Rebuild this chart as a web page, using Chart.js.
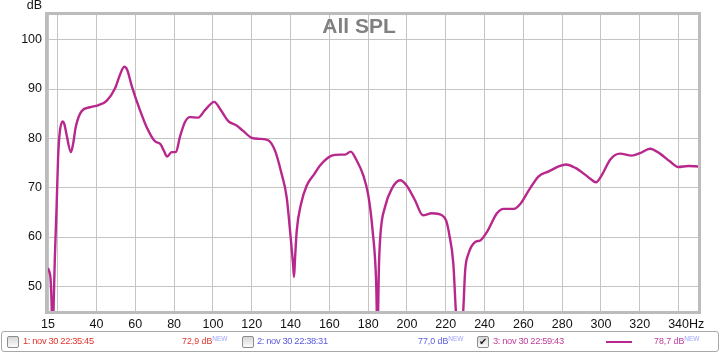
<!DOCTYPE html>
<html>
<head>
<meta charset="utf-8">
<title>All SPL</title>
<script src="https://cdn.jsdelivr.net/npm/chart.js@4.4.0/dist/chart.umd.min.js"></script>
<style>
    html, body { margin: 0; padding: 0; background: #fff; }
    #wrap { position: relative; width: 720px; height: 353px; overflow: hidden; }
    #splChart { position: absolute; left: 0; top: 0; }
    .legend {
        position: absolute; left: 1px; top: 331px; width: 716px; height: 19px;
        border: 1px solid #a8a8a8; border-radius: 3px;
        font-family: "Liberation Sans", Arial, sans-serif; font-size: 8.8px;
    }
    .legend span { position: absolute; top: 0; height: 19px; line-height: 19px; white-space: nowrap; }
    .legend .box {
        top: 4px; width: 10px; height: 10px; line-height: 10px;
        border: 1px solid #8c8c8c; border-radius: 2px;
        background: linear-gradient(#d6d6d6, #fbfbfb);
        font-size: 10px; text-align: center; color: #222;
    }
    .legend .name { font-size: 9.3px; letter-spacing: -0.35px; }
    .legend sup { font-size: 6.5px; color: #a0a4ff; vertical-align: 3px; line-height: 0; }
    .legend .swatch { top: 9px; height: 2px; width: 26px; background: #b8288c; }
</style>
</head>
<body>
<div id="wrap">
    <canvas id="splChart" width="720" height="353"></canvas>
    <div class="legend">
        <span class="box" style="left:5px"></span>
        <span class="name" style="left:21px;color:#e0342c">1: nov 30 22:35:45</span>
        <span style="left:180px;color:#e0342c">72,9 dB<sup>NEW</sup></span>

        <span class="box" style="left:240px"></span>
        <span class="name" style="left:255px;color:#5a5ae0">2: nov 30 22:38:31</span>
        <span style="left:416px;color:#5a5ae0">77,0 dB<sup>NEW</sup></span>

        <span class="box" style="left:475px">&#10004;</span>
        <span class="name" style="left:491px;color:#c03c9c">3: nov 30 22:59:43</span>
        <span class="swatch" style="left:604px"></span>
        <span style="left:652px;color:#c03c9c">78,7 dB<sup>NEW</sup></span>
    </div>
</div>
<script>
var freqs = [15, 15.8, 16.3, 16.9, 17.3, 17.7, 18.5, 19.4, 20.2, 21.0, 22.5, 23.5, 24.5, 26.8, 28.0,
    29.3, 32.3, 36.6, 40.8, 45.2, 49.5, 52.0, 54.3, 55.8, 58.1, 62.4, 65.8, 70.1, 73.0, 74.7,
    76.4, 78.7, 80.9, 83.0, 85.6, 88.1, 92.4, 95.9, 100.7, 103.6, 107.9, 112.2, 115.6, 120.0, 124.2,
    128.5, 132.0, 135.4, 138.0, 140.2, 141.3, 141.8, 142.3, 143.2, 145.4, 148.3, 152.3, 155.2, 161.2,
    165.5, 168.1, 171.0, 174.1, 177.5, 180.1, 182.3, 184.1, 184.8, 185.6, 186.5, 188.7, 192.2, 196.5,
    199.9, 204.2, 208.2, 212.8, 218.0, 220.2, 221.9, 223.9, 225.2, 227.0, 229.0, 230.0, 231.7, 235.2,
    237.8, 241.2, 246.4, 249.8, 255.0, 258.4, 262.7, 267.9, 273.1, 278.2, 282.0, 286.8, 291.6, 294.5,
    297.4, 300.5, 304.8, 309.8, 315.9, 320.1, 325.3, 330.4, 335.6, 339.8, 345.0, 350.0];

var spl = [53.7, 52.8, 51.6, 46, 38, 43, 55.4, 65.7, 76.1, 81.0, 83.4, 82.8, 80.9, 77.2, 79.0,
    82.3, 85.5, 86.3, 86.7, 87.6, 90.1, 92.8, 94.5, 93.9, 90.7, 85.7, 82.3, 79.4, 78.8, 77.5,
    76.3, 77.2, 77.2, 80.3, 83.3, 84.3, 84.2, 85.7, 87.4, 86.0, 83.5, 82.6, 81.5, 80.1, 79.9,
    79.6, 77.5, 72.8, 68.1, 59.3, 54.5, 51.9, 55.5, 61.3, 66.7, 70.4, 72.8, 74.5, 76.5,
    76.7, 76.7, 77.3, 75.5, 72.5, 68.4, 61.3, 51.2, 40, 54.6, 61.3, 66.1, 69.8, 71.5,
    70.4, 67.4, 64.4, 64.8, 64.4, 63.3, 60.3, 54.6, 45, 36, 45, 53.2, 56.6, 59.0,
    59.3, 61.0, 64.8, 65.7, 65.7, 66.7, 69.4, 72.3, 73.3, 74.3, 74.7, 74.0, 72.7, 71.8,
    71.1, 72.6, 75.7, 76.9, 76.5, 77.0, 77.9, 76.9, 75.3, 74.2, 74.4, 74.3];

var xTicks = [15, 20, 40, 60, 80, 100, 120, 140, 160, 180, 200, 220, 240, 260, 280, 300, 320, 340];
var yTicks = [50, 60, 70, 80, 90, 100];

var chartTitle = 'All SPL';
var lineColor = '#b8288c';

(function () {
    Chart.defaults.font.family = '"Liberation Sans", Arial, sans-serif';
    Chart.defaults.font.size = 12.5;
    Chart.defaults.color = '#111';

    var points = freqs.map(function (f, i) { return { x: f, y: spl[i] }; });

    // title inside the plot, unit labels and the grey frame
    var decorations = {
        id: 'decorations',
        beforeDatasetsDraw: function (chart) {
            var c = chart.ctx, a = chart.chartArea;
            c.save();
            c.font = 'bold 21px "Liberation Sans", Arial, sans-serif';
            c.fillStyle = '#808080';
            c.textAlign = 'center';
            c.textBaseline = 'alphabetic';
            c.fillText(chartTitle, (a.left + a.right) / 2 - 14, a.top + 18);
            c.restore();
        },
        afterDraw: function (chart) {
            var c = chart.ctx, a = chart.chartArea;
            c.save();
            c.strokeStyle = '#bcbcbc';
            c.lineWidth = 3;
            c.strokeRect(a.left - 1.5, a.top - 1.5, a.right - a.left + 3, a.bottom - a.top + 3);
            c.font = '12.5px "Liberation Sans", Arial, sans-serif';
            c.fillStyle = '#111';
            c.textBaseline = 'alphabetic';
            c.textAlign = 'right';
            c.fillText('dB', 42, 9);
            var xs = chart.scales.x;
            var last = xTicks[xTicks.length - 1];
            var w = c.measureText(String(last)).width;
            c.textAlign = 'left';
            c.fillText('Hz', xs.getPixelForValue(last) + w / 2, 327.5);
            c.restore();
        }
    };

    var ctx = document.getElementById('splChart').getContext('2d');
    new Chart(ctx, {
        type: 'line',
        data: {
            datasets: [{
                label: '3: nov 30 22:59:43',
                data: points,
                borderColor: lineColor,
                backgroundColor: 'transparent',
                borderWidth: 2.4,
                pointRadius: 0,
                cubicInterpolationMode: 'monotone',
                clip: 0
            }]
        },
        options: {
            animation: false,
            responsive: false,
            layout: { padding: { left: 0, top: 15, right: 22, bottom: 22 } },
            plugins: { legend: { display: false }, tooltip: { enabled: false }, title: { display: false } },
            scales: {
                x: {
                    type: 'linear',
                    min: 15,
                    max: 350,
                    afterBuildTicks: function (s) { s.ticks = xTicks.map(function (v) { return { value: v }; }); },
                    afterFit: function (s) { s.height = 20; },
                    grid: { color: '#c4c4c4', lineWidth: 1, drawTicks: false },
                    border: { display: false },
                    ticks: {
                        padding: 6,
                        maxRotation: 0,
                        autoSkip: false,
                        callback: function (v) { return v === 20 ? '' : String(v); }
                    }
                },
                y: {
                    min: 45,
                    max: 105,
                    afterBuildTicks: function (s) { s.ticks = yTicks.map(function (v) { return { value: v }; }); },
                    afterFit: function (s) { s.width = 48; },
                    grid: { color: '#c4c4c4', lineWidth: 1, drawTicks: false },
                    border: { display: false },
                    ticks: { padding: 6 }
                }
            }
        },
        plugins: [decorations]
    });
})();
</script>
</body>
</html>
